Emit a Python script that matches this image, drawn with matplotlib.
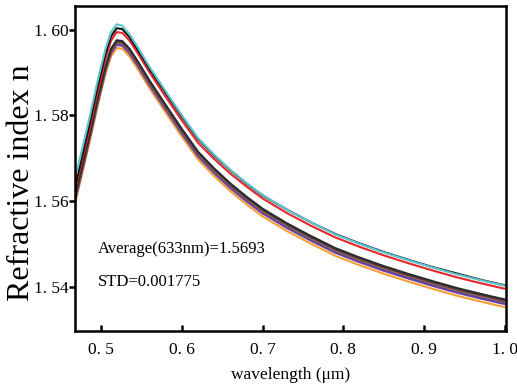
import matplotlib
matplotlib.use("Agg")
import matplotlib.pyplot as plt
from matplotlib.ticker import FuncFormatter

# Wavelength grid (um), shared by all samples
wavelength = [0.467, 0.475, 0.485, 0.495, 0.505, 0.512, 0.519, 0.526, 0.535, 0.545,
              0.560, 0.580, 0.600, 0.620, 0.640, 0.660, 0.680, 0.700, 0.730, 0.760,
              0.790, 0.820, 0.850, 0.880, 0.910, 0.940, 0.970, 1.000]

n_cyan = [1.5648, 1.5712, 1.5792, 1.5878, 1.5955, 1.5995, 1.6013, 1.6010, 1.5990, 1.5960,
          1.5913, 1.5856, 1.5800, 1.5747, 1.5708, 1.5673, 1.5642, 1.5614, 1.5580, 1.5550,
          1.5522, 1.5500, 1.5480, 1.5462, 1.5445, 1.5429, 1.5415, 1.5402]
n_black = [1.5630, 1.5695, 1.5777, 1.5864, 1.5943, 1.5985, 1.6004, 1.6002, 1.5983, 1.5954,
           1.5908, 1.5852, 1.5797, 1.5745, 1.5706, 1.5672, 1.5641, 1.5613, 1.5580, 1.5550,
           1.5523, 1.5501, 1.5481, 1.5463, 1.5446, 1.5431, 1.5416, 1.5403]
n_red = [1.5622, 1.5686, 1.5766, 1.5852, 1.5932, 1.5975, 1.5995, 1.5993, 1.5975, 1.5946,
         1.5900, 1.5843, 1.5788, 1.5736, 1.5698, 1.5664, 1.5634, 1.5606, 1.5572, 1.5542,
         1.5515, 1.5493, 1.5473, 1.5455, 1.5438, 1.5422, 1.5408, 1.5395]
n_dark1 = [1.5608, 1.5672, 1.5752, 1.5836, 1.5914, 1.5956, 1.5976, 1.5974, 1.5956, 1.5927,
           1.5881, 1.5824, 1.5768, 1.5715, 1.5676, 1.5641, 1.5610, 1.5582, 1.5548, 1.5518,
           1.5490, 1.5468, 1.5448, 1.5430, 1.5413, 1.5397, 1.5383, 1.5370]
n_dark2 = [1.5605, 1.5669, 1.5749, 1.5833, 1.5911, 1.5953, 1.5973, 1.5971, 1.5953, 1.5924,
           1.5878, 1.5821, 1.5765, 1.5712, 1.5673, 1.5638, 1.5607, 1.5579, 1.5545, 1.5515,
           1.5487, 1.5465, 1.5445, 1.5427, 1.5410, 1.5394, 1.5380, 1.5367]
n_vermilion = [1.5603, 1.5667, 1.5747, 1.5831, 1.5909, 1.5951, 1.5971, 1.5969, 1.5951, 1.5922,
               1.5876, 1.5819, 1.5763, 1.5710, 1.5671, 1.5636, 1.5605, 1.5577, 1.5543, 1.5513,
               1.5485, 1.5463, 1.5443, 1.5425, 1.5408, 1.5392, 1.5378, 1.5365]
n_blue = [1.5600, 1.5664, 1.5744, 1.5828, 1.5906, 1.5948, 1.5968, 1.5966, 1.5948, 1.5919,
          1.5873, 1.5816, 1.5760, 1.5707, 1.5668, 1.5633, 1.5602, 1.5574, 1.5540, 1.5510,
          1.5482, 1.5460, 1.5440, 1.5422, 1.5405, 1.5389, 1.5375, 1.5362]
n_purple = [1.5597, 1.5661, 1.5741, 1.5825, 1.5903, 1.5945, 1.5965, 1.5963, 1.5945, 1.5916,
            1.5870, 1.5813, 1.5757, 1.5704, 1.5665, 1.5630, 1.5599, 1.5571, 1.5537, 1.5507,
            1.5479, 1.5457, 1.5437, 1.5419, 1.5402, 1.5386, 1.5372, 1.5359]
n_orange = [1.5590, 1.5654, 1.5734, 1.5818, 1.5896, 1.5938, 1.5958, 1.5956, 1.5938, 1.5909,
            1.5863, 1.5806, 1.5750, 1.5697, 1.5658, 1.5623, 1.5592, 1.5564, 1.5530, 1.5500,
            1.5472, 1.5450, 1.5430, 1.5412, 1.5395, 1.5379, 1.5365, 1.5352]

series = [
    (n_orange, "#f5a033"),
    (n_purple, "#7b3fa0"),
    (n_blue, "#3c4fa8"),
    (n_vermilion, "#e4572e"),
    (n_dark2, "#4a4a4a"),
    (n_dark1, "#2b2b2b"),
    (n_red, "#e8262a"),
    (n_black, "#111111"),
    (n_cyan, "#5cc6cf"),
]

x_ticks = [0.5, 0.6, 0.7, 0.8, 0.9, 1.0]
y_ticks = [1.54, 1.56, 1.58, 1.60]

avg_text = "Average(633nm)=1.5693"
std_text = "STD=0.001775"

plt.rcParams["font.family"] = ["Liberation Serif", "DejaVu Serif"]
plt.rcParams["mathtext.fontset"] = "stix"

fig = plt.figure(figsize=(5.17, 3.89), dpi=100)
ax = fig.add_axes([0.1445, 0.150, 0.8333, 0.8346])

for values, color in series:
    ax.plot(wavelength, values, color=color, lw=1.5, solid_capstyle="round")

ax.set_xlim(0.467, 1.001)
ax.set_ylim(1.5297, 1.6056)
ax.set_xticks(x_ticks)
ax.set_yticks(y_ticks)

# tick labels with the wide decimal point spacing
ax.xaxis.set_major_formatter(FuncFormatter(lambda v, p: f"{v:.1f}".replace(".", ". ")))
ax.yaxis.set_major_formatter(FuncFormatter(lambda v, p: f"{v:.2f}".replace(".", ". ")))

ax.tick_params(axis="both", length=4, width=1.8, labelsize=12.5,
               top=False, right=False, color="black")
ax.tick_params(axis="y", direction="out", pad=0.5)
ax.tick_params(axis="x", direction="in", pad=8)
for side in ["left", "bottom", "top", "right"]:
    ax.spines[side].set_linewidth(1.8)
    ax.spines[side].set_color("black")

ax.set_xlabel("wavelength (μm)", fontsize=12.5, labelpad=7)
fig.text(0.041, 0.53, "Refractive index n", rotation=90, fontsize=23,
         ha="center", va="center")

ax.text(0.496, 1.5489, avg_text, fontsize=12, va="center", ha="left")
ax.text(0.496, 1.5410, std_text, fontsize=12, va="center", ha="left")

fig.savefig("out.png", dpi=100)
